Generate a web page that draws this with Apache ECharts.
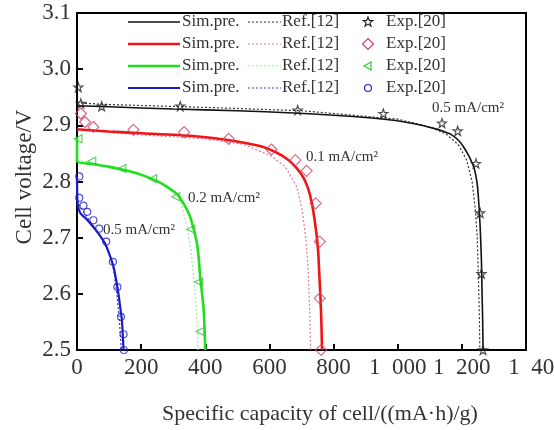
<!DOCTYPE html>
<html><head><meta charset="utf-8">
<script src="https://cdn.jsdelivr.net/npm/echarts@6/dist/echarts.min.js"></script>
<style>html,body{margin:0;padding:0;background:#fff}#c{width:554px;height:430px}</style>
</head><body><div id="c"></div>
<script>
// ---- data ----
var xTicks = [0, 200, 400, 600, 800, 1000, 1200, 1400];
var yTicks = [2.5, 2.6, 2.7, 2.8, 2.9, 3.0, 3.1];

var simBlack = [[0,2.935],[100,2.933],[300,2.929],[500,2.926],[675,2.922],[800,2.918],[900,2.914],[988,2.909],[1060,2.902],[1110,2.895],[1144,2.889],[1166,2.884],[1190,2.873],[1206,2.861],[1222,2.845],[1238,2.824],[1248,2.795],[1253,2.760],[1257,2.720],[1261,2.660],[1263,2.600],[1265,2.550],[1266,2.5]];
var refBlack = [[0,2.940],[100,2.937],[400,2.932],[700,2.926],[1000,2.911],[1100,2.897],[1150,2.885],[1190,2.865],[1215,2.838],[1232,2.800],[1242,2.750],[1248,2.700],[1252,2.620],[1255,2.550],[1256,2.5]];
var expBlack = [[4,2.968],[12,2.939],[77,2.934],[322,2.934],[688,2.927],[955,2.921],[1138,2.904],[1187,2.890],[1244,2.832],[1257,2.744],[1261,2.636],[1266,2.5]];

var simRed = [[0,2.893],[100,2.889],[200,2.886],[360,2.881],[470,2.874],[570,2.863],[620,2.852],[655,2.840],[685,2.824],[707,2.806],[722,2.785],[732,2.762],[740,2.735],[747,2.705],[752,2.675],[756,2.630],[759,2.595],[762,2.550],[764,2.5]];
var refRed = [[0,2.892],[200,2.883],[400,2.876],[520,2.866],[603,2.846],[650,2.826],[686,2.790],[702,2.750],[713,2.701],[719,2.660],[723,2.613],[726,2.560],[728,2.5]];
var expRed = [[12,2.921],[25,2.906],[51,2.897],[176,2.892],[334,2.888],[473,2.876],[606,2.857],[681,2.838],[716,2.819],[744,2.761],[757,2.693],[757,2.592],[761,2.5]];

var simGreen = [[0,2.878],[0,2.836],[50,2.831],[100,2.826],[158,2.819],[210,2.810],[259,2.798],[290,2.787],[311,2.778],[333,2.760],[353,2.737],[366,2.710],[374,2.690],[380,2.660],[384,2.630],[390,2.600],[395,2.571],[398,2.535],[400,2.5]];
var refGreen = [[0,2.838],[100,2.828],[200,2.812],[280,2.792],[320,2.772],[343,2.720],[355,2.680],[364,2.630],[371,2.580],[375,2.540],[377,2.5]];
var expGreen = [[3,2.876],[46,2.836],[140,2.823],[236,2.805],[308,2.773],[355,2.715],[379,2.621],[384,2.533]];

var simBlue = [[0,2.810],[2,2.760],[10,2.744],[30,2.733],[51,2.719],[70,2.705],[87,2.690],[100,2.672],[114,2.648],[122,2.625],[129,2.601],[135,2.575],[140,2.553],[143,2.525],[145,2.5]];
var refBlue = [[0,2.765],[30,2.738],[60,2.714],[87,2.688],[105,2.665],[115,2.640],[124,2.600],[131,2.560],[136,2.520],[138,2.5]];
var expBlue = [[7,2.809],[7,2.771],[20,2.757],[32,2.746],[51,2.731],[69,2.716],[91,2.693],[112,2.657],[126,2.612],[137,2.559],[145,2.528],[146,2.5]];

var legendSim = 'Sim.pre.', legendRef = 'Ref.[12]', legendExp = 'Exp.[20]';
var curveLabels = ['0.5 mA/cm\u00b2', '0.1 mA/cm\u00b2', '0.2 mA/cm\u00b2', '0.5 mA/cm\u00b2'];
var xTitle = 'Specific capacity of cell/((mA\u00b7h)/g)';
var yTitle = 'Cell voltage/V';

// ---- styles ----
var FONT = '"Liberation Serif","DejaVu Serif",serif';
var TXT = '#333';
var STAR = 'path://M0,-10L2.35,-3.24L9.51,-3.09L3.8,1.24L5.88,8.09L0,4L-5.88,8.09L-3.8,1.24L-9.51,-3.09L-2.35,-3.24Z';
var groups = [
  {sim: simBlack, ref: refBlack, exp: expBlack, c: '#111', w: 1.6, rc: '#333', mc: '#222', sym: STAR, ss: 9, rot: 0},
  {sim: simRed, ref: refRed, exp: expRed, c: '#f01414', w: 2.6, rc: '#e07a98', mc: '#d0436a', sym: 'diamond', ss: 11, rot: 0},
  {sim: simGreen, ref: refGreen, exp: expGreen, c: '#1ee01e', w: 2.6, rc: '#a0e8a0', mc: '#33c833', sym: 'triangle', ss: 8, rot: 90},
  {sim: simBlue, ref: refBlue, exp: expBlue, c: '#1a1ac8', w: 2.2, rc: '#3a3ad0', mc: '#2424c4', sym: 'circle', ss: 7, rot: 0}
];

var series = [];
groups.forEach(function (g, i) {
  series.push({type: 'line', name: 'ref' + i, data: g.ref, symbol: 'none', z: 2,
    lineStyle: {color: g.rc, width: 1.2, type: [2, 2]}});
});
groups.forEach(function (g, i) {
  series.push({type: 'line', name: 'sim' + i, data: g.sim, symbol: 'none', z: 3, smooth: 0.2,
    lineStyle: {color: g.c, width: g.w}});
});
groups.forEach(function (g, i) {
  series.push({type: 'scatter', name: 'exp' + i, data: g.exp, symbol: g.sym, symbolSize: g.ss, symbolRotate: g.rot, z: 4,
    itemStyle: {color: 'rgba(255,255,255,0)', borderColor: g.mc, borderWidth: 1.2}});
});

// legend graphics
function starPts(cx, cy, R) {
  var pts = [], r = R * 0.42;
  for (var k = 0; k < 10; k++) {
    var a = -Math.PI / 2 + k * Math.PI / 5, rr = k % 2 ? r : R;
    pts.push([cx + rr * Math.cos(a), cy + rr * Math.sin(a)]);
  }
  return pts;
}
var graphic = [];
var rowY = [22, 44, 66, 88];
groups.forEach(function (g, i) {
  var y = rowY[i];
  graphic.push({type: 'line', shape: {x1: 128, y1: y, x2: 180, y2: y}, style: {stroke: g.c, lineWidth: g.w}, z: 10});
  graphic.push({type: 'text', x: 182, y: y, style: {text: legendSim, font: '17px ' + FONT, fill: TXT, textVerticalAlign: 'middle'}, z: 10});
  graphic.push({type: 'line', shape: {x1: 248, y1: y, x2: 281, y2: y}, style: {stroke: g.rc, lineWidth: 1.2, lineDash: [2, 2]}, z: 10});
  graphic.push({type: 'text', x: 282, y: y, style: {text: legendRef, font: '17px ' + FONT, fill: TXT, textVerticalAlign: 'middle'}, z: 10});
  graphic.push({type: 'text', x: 386, y: y, style: {text: legendExp, font: '17px ' + FONT, fill: TXT, textVerticalAlign: 'middle'}, z: 10});
  var mx = 368;
  var ms = {fill: 'none', stroke: g.mc, lineWidth: 1.2};
  if (i === 0) graphic.push({type: 'polygon', shape: {points: starPts(mx, y, 5)}, style: ms, z: 10});
  if (i === 1) graphic.push({type: 'polygon', shape: {points: [[mx, y - 5.5], [mx + 5.5, y], [mx, y + 5.5], [mx - 5.5, y]]}, style: ms, z: 10});
  if (i === 2) graphic.push({type: 'polygon', shape: {points: [[mx - 4, y], [mx + 3, y - 4], [mx + 3, y + 4]]}, style: ms, z: 10});
  if (i === 3) graphic.push({type: 'circle', shape: {cx: mx, cy: y, r: 3.5}, style: ms, z: 10});
});
// curve annotations
var annPos = [[432, 108], [306, 157], [188, 198], [103, 230]];
curveLabels.forEach(function (t, i) {
  graphic.push({type: 'text', x: annPos[i][0], y: annPos[i][1], style: {text: t, font: '15px ' + FONT, fill: TXT, textVerticalAlign: 'middle'}, z: 10});
});
graphic.push({type: 'text', x: 320, y: 414, style: {text: xTitle, font: '22px ' + FONT, fill: TXT, textAlign: 'center', textVerticalAlign: 'middle'}, z: 10});
graphic.push({type: 'text', x: 25, y: 177, rotation: Math.PI / 2, style: {text: yTitle, font: '23px ' + FONT, fill: TXT, textAlign: 'center', textVerticalAlign: 'middle'}, z: 10});

var chart = echarts.init(document.getElementById('c'), null, {renderer: 'canvas'});
chart.setOption({
  animation: false,
  backgroundColor: '#fff',
  grid: {left: 77, top: 13, right: 28, bottom: 80, containLabel: false, outerBoundsMode: 'none',
    show: true, borderColor: '#000', borderWidth: 2, backgroundColor: 'transparent'},
  xAxis: {
    type: 'value', min: xTicks[0], max: xTicks[xTicks.length - 1], interval: xTicks[1] - xTicks[0],
    axisLine: {lineStyle: {color: '#000', width: 2}},
    axisTick: {inside: true, length: 6, lineStyle: {color: '#000', width: 2}},
    splitLine: {show: false},
    axisLabel: {fontFamily: FONT, fontSize: 23, color: TXT, margin: 6, hideOverlap: false,
      formatter: function (v) {
        var s = v >= 1000 ? Math.floor(v / 1000) + '\u2002' + String(v % 1000).padStart(3, '0') : String(v);
        return v === 1400 ? '{r|' + s + '}' : s;
      },
      rich: {r: {fontFamily: FONT, fontSize: 23, color: TXT, padding: [0, 0, 0, 22]}}}
  },
  yAxis: {
    type: 'value', min: yTicks[0], max: yTicks[yTicks.length - 1], interval: 0.1,
    axisLine: {lineStyle: {color: '#000', width: 2}},
    axisTick: {inside: true, length: 6, lineStyle: {color: '#000', width: 2}},
    splitLine: {show: false},
    axisLabel: {fontFamily: FONT, fontSize: 23, color: TXT, margin: 6, formatter: function (v) { return v.toFixed(1); }}
  },
  graphic: graphic,
  series: series
});
</script>
</body></html>
